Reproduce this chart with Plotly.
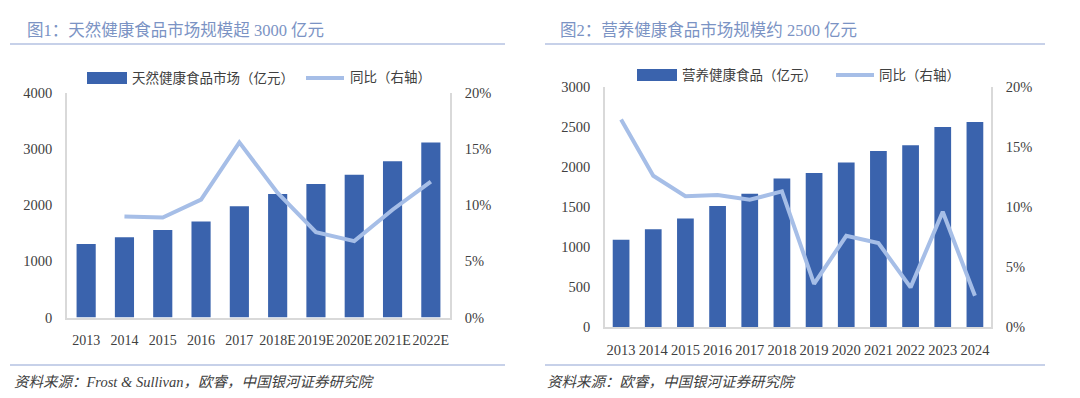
import plotly.graph_objects as go

# ---- data ----
years1 = ["2013", "2014", "2015", "2016", "2017", "2018E", "2019E", "2020E", "2021E", "2022E"]
market1 = [1310, 1430, 1560, 1712, 1980, 2200, 2378, 2542, 2786, 3116]
yoy1 = [None, 9.0, 8.9, 10.5, 15.6, 11.1, 7.6, 6.8, 9.6, 12.1]

years2 = ["2013", "2014", "2015", "2016", "2017", "2018", "2019", "2020", "2021", "2022", "2023", "2024"]
market2 = [1092, 1221, 1355, 1513, 1667, 1855, 1925, 2055, 2200, 2271, 2500, 2563]
yoy2 = [17.3, 12.6, 10.9, 11.0, 10.6, 11.3, 3.6, 7.6, 7.0, 3.3, 9.6, 2.6]

title1 = "图1：天然健康食品市场规模超 3000 亿元"
title2 = "图2：营养健康食品市场规模约 2500 亿元"
legend1 = ["天然健康食品市场（亿元）", "同比（右轴）"]
legend2 = ["营养健康食品（亿元）", "同比（右轴）"]
source1 = "资料来源：Frost & Sullivan，欧睿，中国银河证券研究院"
source2 = "资料来源：欧睿，中国银河证券研究院"

W, H = 1080, 398
BAR = "#3a63ad"
LINE = "#a6bee7"
TITLE = "#7b93c4"
RULE = "#8fa4d4"
AX = "#d9d9d9"
TXT = "#404040"
FONT = "Liberation Serif, Noto Sans CJK SC, serif"


def px_x(v):
    return v / W


def px_y(v):
    return 1 - v / H


fig = go.Figure()
fig.add_trace(go.Bar(x=years1, y=market1, marker_color=BAR, width=0.5,
                     xaxis="x", yaxis="y", showlegend=False))
fig.add_trace(go.Scatter(x=years1, y=yoy1, mode="lines", line=dict(color=LINE, width=4),
                         xaxis="x", yaxis="y2", showlegend=False))
fig.add_trace(go.Bar(x=years2, y=market2, marker_color=BAR, width=0.52,
                     xaxis="x2", yaxis="y3", showlegend=False))
fig.add_trace(go.Scatter(x=years2, y=yoy2, mode="lines", line=dict(color=LINE, width=4),
                         xaxis="x2", yaxis="y4", showlegend=False))

tickfont = dict(family=FONT, size=14.5, color=TXT)
d1x = [px_x(67), px_x(450)]
d1y = [px_y(317.5), px_y(93)]
d2x = [px_x(605), px_x(991)]
d2y = [px_y(327), px_y(87)]

common_x = dict(type="category", showline=True, linecolor=AX, linewidth=1.5, ticks="",
                showgrid=False, zeroline=False, automargin=False, ticklabelstandoff=9, tickangle=0)
common_y = dict(showline=True, linecolor=AX, linewidth=1.5, ticks="", tickfont=tickfont,
                showgrid=False, zeroline=False, automargin=False, ticklabelstandoff=10)

fig.update_layout(
    template="none",
    width=W, height=H,
    margin=dict(l=0, r=0, t=0, b=0),
    paper_bgcolor="white", plot_bgcolor="white",
    font=dict(family=FONT, color=TXT),
    xaxis=dict(domain=d1x, anchor="y", tickmode="array", tickvals=years1, ticktext=years1,
               tickfont=dict(family=FONT, size=14, color=TXT), **common_x),
    yaxis=dict(domain=d1y, anchor="x", range=[0, 4000], tickvals=[0, 1000, 2000, 3000, 4000], **common_y),
    yaxis2=dict(overlaying="y", anchor="x", side="right", range=[0, 20],
                tickvals=[0, 5, 10, 15, 20], ticktext=["0%", "5%", "10%", "15%", "20%"], **common_y),
    xaxis2=dict(domain=d2x, anchor="y3", tickmode="array", tickvals=years2, ticktext=years2,
                tickfont=tickfont, **common_x),
    yaxis3=dict(domain=d2y, anchor="x2", range=[0, 3000],
                tickvals=[0, 500, 1000, 1500, 2000, 2500, 3000], **common_y),
    yaxis4=dict(overlaying="y3", anchor="x2", side="right", range=[0, 20],
                tickvals=[0, 5, 10, 15, 20], ticktext=["0%", "5%", "10%", "15%", "20%"], **common_y),
)

shapes = []
annotations = []

# titles and rules
for (x0, x1, tx, title, src) in [(10, 505, 25, title1, source1), (545, 1045, 558, title2, source2)]:
    shapes.append(dict(type="line", xref="paper", yref="paper", x0=px_x(x0), x1=px_x(x1),
                       y0=px_y(44), y1=px_y(44), line=dict(color=RULE, width=1.2)))
    shapes.append(dict(type="line", xref="paper", yref="paper", x0=px_x(x0), x1=px_x(x1),
                       y0=px_y(365), y1=px_y(365), line=dict(color=RULE, width=1.2)))
    annotations.append(dict(text=title, xref="paper", yref="paper", x=px_x(tx), y=px_y(31),
                            xanchor="left", yanchor="middle", showarrow=False,
                            font=dict(family=FONT, size=16.5, color=TITLE)))
    annotations.append(dict(text="<i>" + src + "</i>", xref="paper", yref="paper", x=px_x(tx - 13), y=px_y(382),
                            xanchor="left", yanchor="middle", showarrow=False,
                            font=dict(family=FONT, size=14.5, color=TXT)))

# legends
for (bx0, bx1, btx, lx0, lx1, ltx, ly, labels) in [
    (87, 127, 130, 306, 344, 348, 78, legend1),
    (637, 677, 680, 836, 874, 877, 75, legend2),
]:
    shapes.append(dict(type="rect", xref="paper", yref="paper", x0=px_x(bx0), x1=px_x(bx1),
                       y0=px_y(ly + 6), y1=px_y(ly - 6), fillcolor=BAR, line=dict(width=0)))
    shapes.append(dict(type="line", xref="paper", yref="paper", x0=px_x(lx0), x1=px_x(lx1),
                       y0=px_y(ly), y1=px_y(ly), line=dict(color=LINE, width=4)))
    annotations.append(dict(text=labels[0], xref="paper", yref="paper", x=px_x(btx), y=px_y(ly),
                            xanchor="left", yanchor="middle", showarrow=False,
                            font=dict(family=FONT, size=13.5, color=TXT)))
    annotations.append(dict(text=labels[1], xref="paper", yref="paper", x=px_x(ltx), y=px_y(ly),
                            xanchor="left", yanchor="middle", showarrow=False,
                            font=dict(family=FONT, size=13.5, color=TXT)))

fig.update_layout(shapes=shapes, annotations=annotations)
fig.write_html("out.html", config={"displayModeBar": False},
               post_script="document.body.style.margin='0';document.body.style.overflow='hidden';")
